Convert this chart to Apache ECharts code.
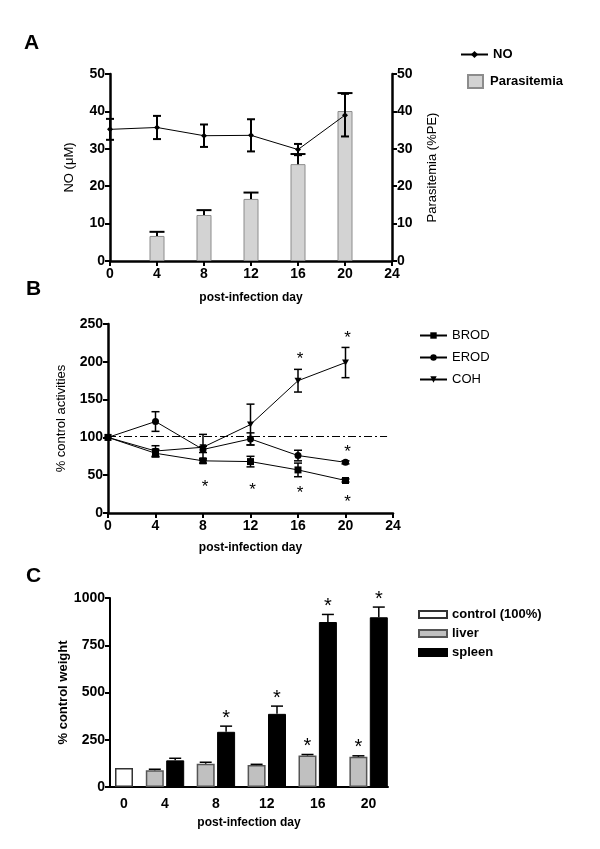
<!DOCTYPE html>
<html><head><meta charset="utf-8">
<script src="https://cdn.jsdelivr.net/npm/echarts@6/dist/echarts.min.js"></script>
<style>html,body{margin:0;padding:0;background:#fff}#c{width:600px;height:849px}</style>
</head><body><div id="c"></div>
<script>
// ---------- Panel A ----------
const daysA = [0, 4, 8, 12, 16, 20];
const noMean = [35.2, 35.7, 33.5, 33.6, 29.8, 39.0];
const noErr = [2.8, 3.1, 3.0, 4.3, 1.5, 5.7];
const paraDays = [4, 8, 12, 16, 20];
const paraMean = [6.7, 12.3, 16.6, 25.9, 40.1];
const paraErr = [1.1, 1.3, 1.7, 2.7, 4.8];

// ---------- Panel B ----------
const daysB = [0, 4, 8, 12, 16, 20];
const brodMean = [100, 79, 69, 68, 57, 43];
const brodErr = [0, 5, 3, 7, 9, 2];
const erodMean = [100, 121, 84, 98, 76, 67];
const erodErr = [0, 13, 4, 8, 7, 2];
const cohMean = [100, 82, 87, 117, 175, 199];
const cohErr = [0, 7, 17, 27, 15, 20];
const controlLevel = 102;
const starsB = [[8, 39], [12, 35], [16, 31], [20, 20], [20, 85], [16, 209], [20, 236]];

// ---------- Panel C ----------
const daysC = ['0', '4', '8', '12', '16', '20'];
const controlC = [100];
const liverMean = [88, 123, 116, 167, 160];
const liverErr = [6, 8, 4, 5, 5];
const spleenMean = [141, 292, 387, 873, 898];
const spleenErr = [11, 30, 41, 40, 54];
const liverSig = [0, 0, 0, 1, 1];
const spleenSig = [0, 1, 1, 1, 1];

const FONT = "'Liberation Sans', Arial, sans-serif";
const BLACK = '#000';

// layout of panel C (axis units)
const cControlPos = 14, cFirst = 55, cStep = 50.9, cHalf = 10.2;
const cGroupPos = daysC.map((d, i) => i === 0 ? cControlPos : cFirst + cStep * (i - 1));

function errRender(capHalf, lw, twoSided) {
  return function (params, api) {
    const x = api.value(0), lo = api.value(1), hi = api.value(2);
    const a = api.coord([x, lo]), b = api.coord([x, hi]);
    const st = { stroke: BLACK, lineWidth: lw };
    const ch = [
      { type: 'line', shape: { x1: a[0], y1: a[1], x2: b[0], y2: b[1] }, style: st },
      { type: 'line', shape: { x1: b[0] - capHalf, y1: b[1], x2: b[0] + capHalf, y2: b[1] }, style: st }
    ];
    if (twoSided) ch.push({ type: 'line', shape: { x1: a[0] - capHalf, y1: a[1], x2: a[0] + capHalf, y2: a[1] }, style: st });
    return { type: 'group', children: ch };
  };
}
function starRender(fontSize, dx, dy) {
  return function (params, api) {
    const p = api.coord([api.value(0), api.value(1)]);
    return { type: 'text', style: { x: p[0] + dx, y: p[1] + dy, text: '*', font: fontSize + 'px ' + FONT, fill: BLACK, textAlign: 'center', textVerticalAlign: 'middle' } };
  };
}

function valueX(grid, min, max, interval, nameGap) {
  return {
    gridIndex: grid, type: 'value', min: min, max: max, interval: interval,
    axisLine: { show: true, onZero: false, lineStyle: { color: BLACK, width: 2.5 } },
    axisTick: { show: true, inside: false, length: 5, lineStyle: { color: BLACK, width: 2 } },
    axisLabel: { color: BLACK, fontFamily: FONT, fontWeight: 'bold', fontSize: 14, margin: 6 },
    splitLine: { show: false },
    name: 'post-infection day', nameLocation: 'middle', nameGap: nameGap,
    nameTextStyle: { color: BLACK, fontFamily: FONT, fontWeight: 'bold', fontSize: 12 }
  };
}
function valueY(grid, min, max, interval, name, nameGap, pos, nameBold) {
  return {
    gridIndex: grid, type: 'value', min: min, max: max, interval: interval, position: pos,
    axisLine: { show: true, onZero: false, lineStyle: { color: BLACK, width: 2.5 } },
    axisTick: { show: true, inside: false, length: 5, lineStyle: { color: BLACK, width: 2 } },
    axisLabel: { color: BLACK, fontFamily: FONT, fontWeight: 'bold', fontSize: 14, margin: 5, formatter: v => String(v) },
    splitLine: { show: false },
    name: name, nameLocation: 'middle', nameGap: nameGap, nameRotate: 90,
    nameTextStyle: { color: BLACK, fontFamily: FONT, fontWeight: nameBold ? 'bold' : 'normal', fontSize: 13 }
  };
}

const xC = valueX(2, 0, 278, null, 30);
delete xC.interval;
xC.axisTick = { show: false };
xC.axisLine.lineStyle.width = 2;
xC.axisLabel.customValues = cGroupPos;
xC.axisLabel.margin = 10;
xC.axisLabel.formatter = function (v) {
  const i = cGroupPos.findIndex(p => Math.abs(p - v) < 0.5);
  return i >= 0 ? daysC[i] : '';
};
const yC = valueY(2, 0, 1000, 250, '% control weight', 40, 'left', true);
yC.axisLine.lineStyle.width = 2;

const option = {
  backgroundColor: '#fff',
  animation: false,
  textStyle: { fontFamily: FONT },
  grid: [
    { left: 110, top: 74, width: 282, height: 187 },
    { left: 108, top: 324, width: 285, height: 189 },
    { left: 110, top: 598, width: 278, height: 189 }
  ],
  xAxis: [valueX(0, 0, 24, 4, 31), valueX(1, 0, 24, 4, 29), xC],
  yAxis: [
    valueY(0, 0, 50, 10, 'NO (\u03bcM)', 34, 'left', false),
    valueY(0, 0, 50, 10, 'Parasitemia (%PE)', 34, 'right', false),
    valueY(1, 0, 250, 50, '% control activities', 40, 'left', false),
    yC
  ],
  legend: [
    { data: ['NO'], left: 455, top: 43, itemWidth: 27, itemHeight: 9, textStyle: { color: BLACK, fontWeight: 'bold', fontSize: 13, fontFamily: FONT } },
    { data: [{ name: 'Parasitemia', icon: 'rect' }], left: 462, top: 69, itemWidth: 15, itemHeight: 13, textStyle: { color: BLACK, fontWeight: 'bold', fontSize: 13, fontFamily: FONT, padding: [0, 0, 0, 2] } },
    { data: ['BROD', 'EROD', 'COH'], left: 414, top: 324, orient: 'vertical', itemWidth: 27, itemHeight: 8, itemGap: 9, textStyle: { color: BLACK, fontSize: 13, fontFamily: FONT } },
    { data: [{ name: 'control (100%)', icon: 'rect' }, { name: 'liver', icon: 'rect' }, { name: 'spleen', icon: 'rect' }], left: 413, top: 603, orient: 'vertical', itemWidth: 28, itemHeight: 7, itemGap: 6, textStyle: { color: BLACK, fontWeight: 'bold', fontSize: 13, fontFamily: FONT } }
  ],
  graphic: [
    { type: 'text', left: 24, top: 33, style: { text: 'A', font: 'bold 21px ' + FONT, fill: BLACK } },
    { type: 'text', left: 26, top: 279, style: { text: 'B', font: 'bold 21px ' + FONT, fill: BLACK } },
    { type: 'text', left: 26, top: 566, style: { text: 'C', font: 'bold 21px ' + FONT, fill: BLACK } }
  ],
  series: [
    // ----- A -----
    {
      name: 'Parasitemia', type: 'bar', xAxisIndex: 0, yAxisIndex: 1, barWidth: 15,
      itemStyle: { color: '#d3d3d3', borderColor: '#8c8c8c', borderWidth: 1 },
      data: paraDays.map((d, i) => [d, paraMean[i]])
    },
    {
      type: 'custom', xAxisIndex: 0, yAxisIndex: 1, z: 5, renderItem: errRender(7.5, 2, false),
      data: paraDays.map((d, i) => [d, paraMean[i], paraMean[i] + paraErr[i]])
    },
    {
      name: 'NO', type: 'line', xAxisIndex: 0, yAxisIndex: 0, z: 6,
      symbol: 'diamond', symbolSize: 6, color: BLACK,
      lineStyle: { color: BLACK, width: 1 }, itemStyle: { color: BLACK },
      data: daysA.map((d, i) => [d, noMean[i]])
    },
    {
      type: 'custom', xAxisIndex: 0, yAxisIndex: 0, z: 7, renderItem: errRender(4, 2, true),
      data: daysA.map((d, i) => [d, noMean[i] - noErr[i], noMean[i] + noErr[i]])
    },
    // ----- B -----
    {
      name: 'BROD', type: 'line', xAxisIndex: 1, yAxisIndex: 2, z: 6,
      symbol: 'rect', symbolSize: 7, color: BLACK,
      lineStyle: { color: BLACK, width: 1 }, itemStyle: { color: BLACK },
      data: daysB.map((d, i) => [d, brodMean[i]]),
      markLine: {
        silent: true, symbol: 'none', label: { show: false },
        lineStyle: { color: BLACK, width: 1, type: [8, 3, 2, 3] },
        data: [[{ coord: [0, controlLevel] }, { coord: [23.5, controlLevel] }]]
      }
    },
    {
      name: 'EROD', type: 'line', xAxisIndex: 1, yAxisIndex: 2, z: 6,
      symbol: 'circle', symbolSize: 7, color: BLACK,
      lineStyle: { color: BLACK, width: 1 }, itemStyle: { color: BLACK },
      data: daysB.map((d, i) => [d, erodMean[i]])
    },
    {
      name: 'COH', type: 'line', xAxisIndex: 1, yAxisIndex: 2, z: 6,
      symbol: 'path://M0,0 L10,0 L5,9 Z', symbolSize: [7, 6], color: BLACK,
      lineStyle: { color: BLACK, width: 1 }, itemStyle: { color: BLACK },
      data: daysB.map((d, i) => [d, cohMean[i]])
    },
    {
      type: 'custom', xAxisIndex: 1, yAxisIndex: 2, z: 7, renderItem: errRender(4, 1.5, true),
      data: [].concat(
        daysB.map((d, i) => [d, brodMean[i] - brodErr[i], brodMean[i] + brodErr[i]]),
        daysB.map((d, i) => [d, erodMean[i] - erodErr[i], erodMean[i] + erodErr[i]]),
        daysB.map((d, i) => [d, cohMean[i] - cohErr[i], cohMean[i] + cohErr[i]])
      ).filter(r => r[2] > r[1])
    },
    {
      type: 'custom', xAxisIndex: 1, yAxisIndex: 2, z: 8, renderItem: starRender(17, 2, 4),
      data: starsB
    },
    // ----- C -----
    {
      name: 'control (100%)', type: 'bar', xAxisIndex: 2, yAxisIndex: 3, barWidth: 18, barGap: '-100%',
      itemStyle: { color: '#fff', borderColor: '#333', borderWidth: 1.5 },
      data: controlC.map(v => [cControlPos, v])
    },
    {
      name: 'liver', type: 'bar', xAxisIndex: 2, yAxisIndex: 3, barWidth: 18, barGap: '-100%',
      itemStyle: { color: '#c0c0c0', borderColor: '#555', borderWidth: 1.5 },
      data: liverMean.map((v, i) => [cGroupPos[i + 1] - cHalf, v])
    },
    {
      name: 'spleen', type: 'bar', xAxisIndex: 2, yAxisIndex: 3, barWidth: 18, barGap: '-100%',
      itemStyle: { color: '#000', borderColor: '#000', borderWidth: 1 },
      data: spleenMean.map((v, i) => [cGroupPos[i + 1] + cHalf, v])
    },
    {
      type: 'custom', xAxisIndex: 2, yAxisIndex: 3, z: 7, renderItem: errRender(6, 1.5, false),
      data: [].concat(
        liverMean.map((v, i) => [cGroupPos[i + 1] - cHalf, v, v + liverErr[i]]),
        spleenMean.map((v, i) => [cGroupPos[i + 1] + cHalf, v, v + spleenErr[i]])
      )
    },
    {
      type: 'custom', xAxisIndex: 2, yAxisIndex: 3, z: 8, renderItem: starRender(20, 0, -8),
      data: [].concat(
        liverMean.map((v, i) => [cGroupPos[i + 1] - cHalf, v + liverErr[i], liverSig[i]]),
        spleenMean.map((v, i) => [cGroupPos[i + 1] + cHalf, v + spleenErr[i], spleenSig[i]])
      ).filter(r => r[2] === 1)
    }
  ]
};
const chart = echarts.init(document.getElementById('c'), null, { renderer: 'canvas' });
chart.setOption(option);
</script>
</body></html>
